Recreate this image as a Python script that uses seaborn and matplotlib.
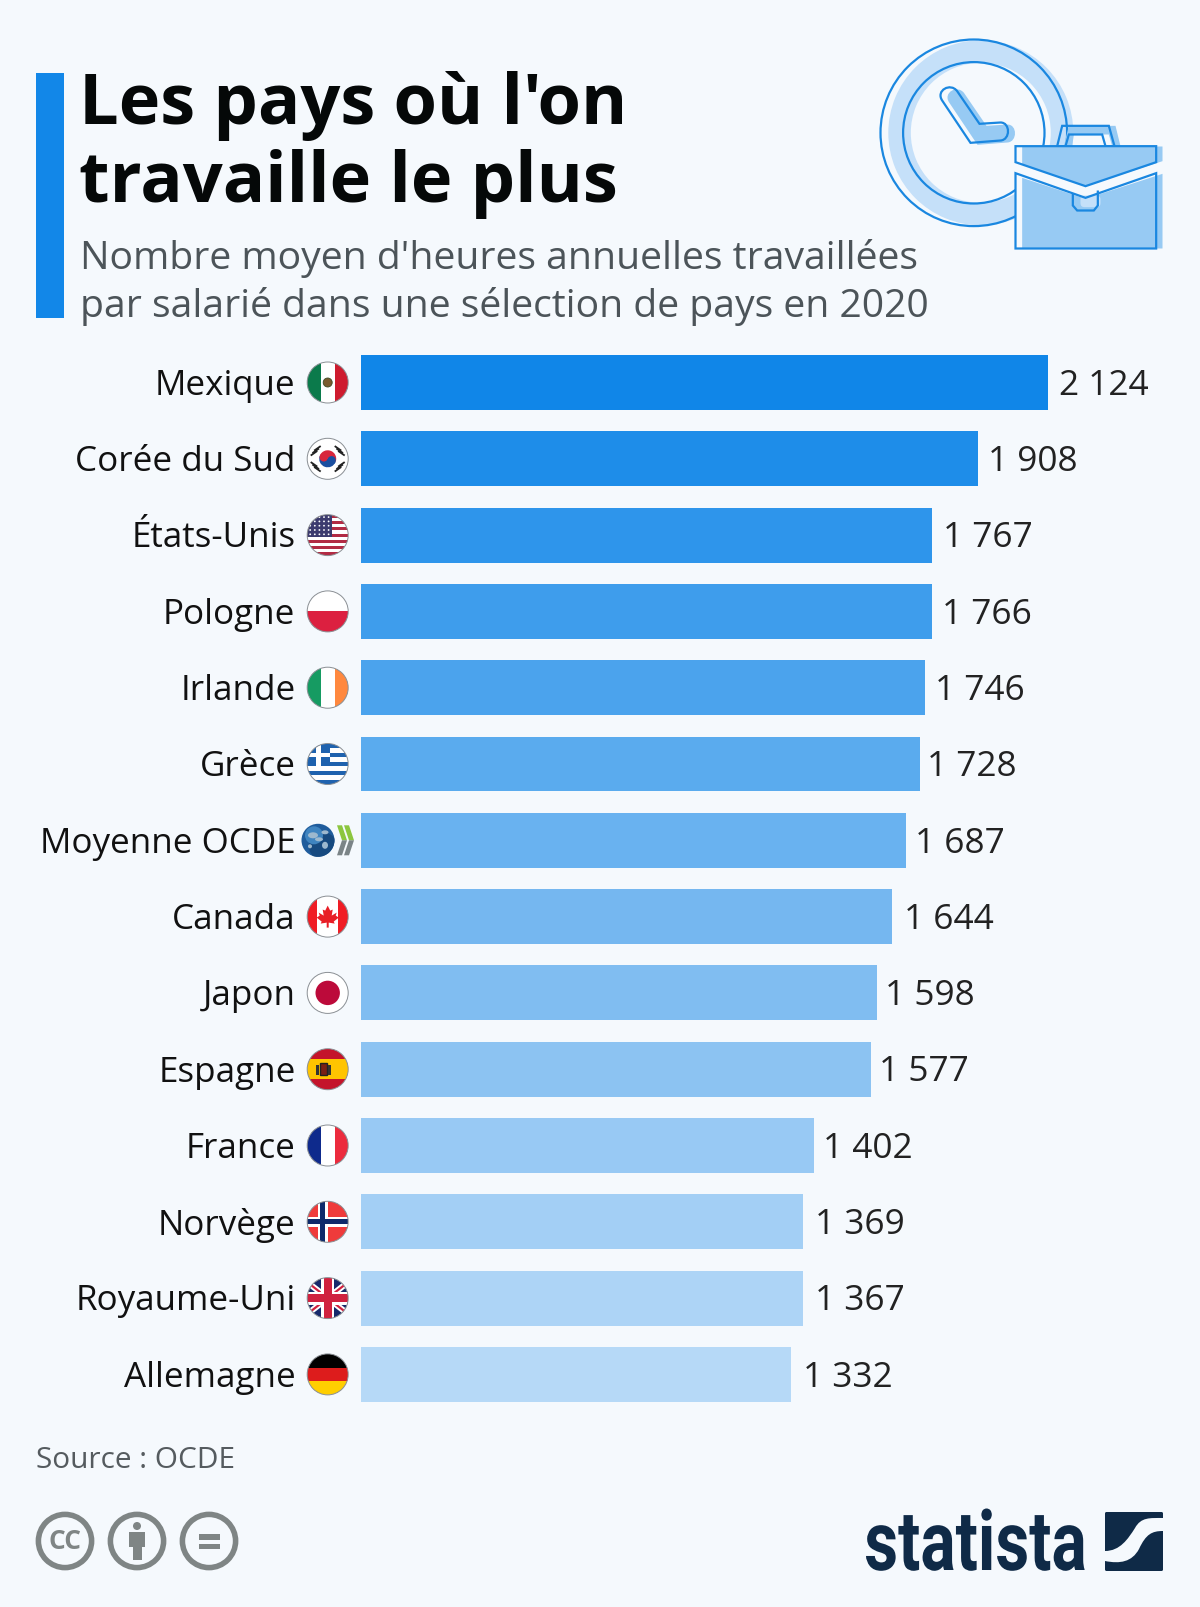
import numpy as np
import pandas as pd
import seaborn as sns
import matplotlib.pyplot as plt
import matplotlib.patheffects as pe
from matplotlib.patches import Circle, Rectangle, Polygon, Wedge, Ellipse, PathPatch, FancyBboxPatch
from matplotlib.path import Path
from matplotlib.transforms import Affine2D, ScaledTranslation

countries = ['Mexique', 'Corée du Sud', 'États-Unis', 'Pologne', 'Irlande', 'Grèce', 'Moyenne OCDE',
             'Canada', 'Japon', 'Espagne', 'France', 'Norvège', 'Royaume-Uni', 'Allemagne']
hours = [2124, 1908, 1767, 1766, 1746, 1728, 1687, 1644, 1598, 1577, 1402, 1369, 1367, 1332]
bar_colors = ['#1086E8', '#1E8DE9', '#2E95EB', '#3E9DEC', '#4BA3ED', '#5AABEE', '#69B2F0',
              '#75B7F0', '#80BDF1', '#8CC3F2', '#98C9F4', '#A3CFF5', '#ADD4F6', '#B6D9F7']

title_lines = ["Les pays où l'on", "travaille le plus"]
subtitle_lines = ["Nombre moyen d'heures annuelles travaillées",
                  "par salarié dans une sélection de pays en 2020"]
source_text = "Source : OCDE"

# the value labels do not sit at one fixed distance from the bars
label_nudge = [1, 0, 1, 0, 0, -3, -1, 2, -2, -2, -1, 2, 2, 2]

BG = '#F5F9FD'
BLUE = '#1287E8'
LIGHT = '#C5E0F9'
MID = '#97CAF3'
LINE = '#1A87E0'
GREY = '#7F8585'
NAVY = '#0F2A47'

sns.set_theme(style='white')
plt.rcParams['font.family'] = ['Open Sans', 'DejaVu Sans']

W, H = 1200, 1608
fig = plt.figure(figsize=(W / 100, H / 100), dpi=100, facecolor=BG)

# bar axes, placed so one hour is 0.3235 px wide
BAR_LEFT = 360.5
ROW0 = 383.5
STEP = 76.3
ax = fig.add_axes([BAR_LEFT / W, 1 - (ROW0 + 13.5 * STEP) / H, 1 - BAR_LEFT / W, 14 * STEP / H])
ax.set_facecolor('none')

df = pd.DataFrame({'pays': countries, 'heures': hours})
sns.barplot(data=df, y='pays', x='heures', hue='pays', palette=bar_colors, legend=False,
            width=0.72, saturation=1, linewidth=0, ax=ax)
ax.set_xlim(0, (W - BAR_LEFT) / 0.3235)
ax.set_ylim(13.5, -0.5)
ax.set_xlabel('')
ax.set_ylabel('')
ax.set_xticks([])
ax.tick_params(axis='y', length=0, pad=46.8, labelsize=25.2, labelcolor='#111111')
sns.despine(ax=ax, left=True, bottom=True)

up = ScaledTranslation(0, 1.2 / 72, fig.dpi_scale_trans)
for lab in ax.get_yticklabels():
    lab.set_transform(lab.get_transform() + up)

for cont, v, nudge in zip(ax.containers, hours, label_nudge):
    anns = ax.bar_label(cont, labels=[f'{v:,}'.replace(',', ' ')], padding=7.2 + nudge * 0.72,
                        fontsize=25.4, color='#222222')
    for a in anns:
        a.xyann = (a.xyann[0], -1.6)

# overlay in pixel coordinates for title, flags and logos
ov = fig.add_axes([0, 0, 1, 1], zorder=5)
ov.set_xlim(0, W)
ov.set_ylim(H, 0)
ov.axis('off')
ov.patch.set_alpha(0)

ov.add_patch(Rectangle((36, 74), 28, 245, fc=BLUE, ec='none'))
for txt, y in zip(title_lines, [124, 202]):
    ov.text(79, y, txt, fontsize=50.7, fontweight='bold', color='#050808', va='baseline')
for txt, y in zip(subtitle_lines, [269, 317]):
    ov.text(80, y, txt, fontsize=28.15, color='#4C5459', va='baseline')
ov.text(36, 1468.5, source_text, fontsize=21.4, color='#555B5F', va='baseline')


# flags ------------------------------------------------------------
def flag_base(cy, cx=327.7, r=20.5):
    c = Circle((cx, cy), r, fc='white', ec='none', zorder=6)
    ov.add_patch(c)
    return c, cx, r


def add(clip, art):
    art.set_zorder(7)
    ov.add_patch(art)
    art.set_clip_path(clip)
    return art


def ring(cx, cy, r):
    ov.add_patch(Circle((cx, cy), r, fc='none', ec='#8A8F94', lw=0.7, zorder=8))


def vbands(clip, cx, cy, r, cols):
    w = 2 * r / len(cols)
    for i, col in enumerate(cols):
        add(clip, Rectangle((cx - r + i * w, cy - r), w, 2 * r, fc=col, ec='none'))


def hbands(clip, cx, cy, r, cols, heights=None):
    heights = heights or [1] * len(cols)
    total = sum(heights)
    y = cy - r
    for col, h in zip(cols, heights):
        hh = 2 * r * h / total
        add(clip, Rectangle((cx - r, y), 2 * r, hh, fc=col, ec='none'))
        y += hh


def mexico(cy):
    clip, cx, r = flag_base(cy)
    vbands(clip, cx, cy, r, ['#0B7A4B', '#FFFFFF', '#CE1B2E'])
    add(clip, Ellipse((cx, cy), 9, 9, fc='#7A5A2E', ec='#3D4A26', lw=0.6))
    ring(cx, cy, r)


def korea(cy):
    clip, cx, r = flag_base(cy)
    add(clip, Wedge((cx, cy), 8.5, 20, 200, fc='#1B4FA0', ec='none'))
    add(clip, Wedge((cx, cy), 8.5, 200, 380, fc='#D8263C', ec='none'))
    add(clip, Circle((cx - 3.9, cy - 1.5), 4.2, fc='#D8263C', ec='none'))
    add(clip, Circle((cx + 3.9, cy + 1.5), 4.2, fc='#1B4FA0', ec='none'))
    for dx, dy, ang in [(-12, -8, -35), (12, -8, 35), (-12, 8, 35), (12, 8, -35)]:
        for k in (-3, 0, 3):
            x0 = cx + dx + k * np.sin(np.radians(ang))
            y0 = cy + dy + k * np.cos(np.radians(ang))
            add(clip, Rectangle((x0 - 4, y0 - 0.9), 8, 1.8, angle=ang, rotation_point='center',
                                fc='#222222', ec='none'))
    ring(cx, cy, r)


def usa(cy):
    clip, cx, r = flag_base(cy)
    hbands(clip, cx, cy, r, ['#B22B44' if i % 2 == 0 else '#FFFFFF' for i in range(13)])
    add(clip, Rectangle((cx - r, cy - r), r * 1.2, r * 1.08, fc='#3C3B6E', ec='none'))
    for i in range(5):
        for j in range(5):
            add(clip, Circle((cx - r + 3 + j * 4.6, cy - r + 2.5 + i * 4.3), 0.9, fc='white', ec='none'))
    ring(cx, cy, r)


def poland(cy):
    clip, cx, r = flag_base(cy)
    hbands(clip, cx, cy, r, ['#FFFFFF', '#DC2040'])
    ring(cx, cy, r)


def ireland(cy):
    clip, cx, r = flag_base(cy)
    vbands(clip, cx, cy, r, ['#169B62', '#FFFFFF', '#FF883E'])
    ring(cx, cy, r)


def greece(cy):
    clip, cx, r = flag_base(cy)
    hbands(clip, cx, cy, r, ['#1F62AE' if i % 2 == 0 else '#FFFFFF' for i in range(9)])
    add(clip, Rectangle((cx - r, cy - r), r * 1.1, r * 1.1, fc='#1F62AE', ec='none'))
    add(clip, Rectangle((cx - r, cy - r + 0.44 * r), r * 1.1, 0.22 * r, fc='white', ec='none'))
    add(clip, Rectangle((cx - r + 0.44 * r, cy - r), 0.22 * r, r * 1.1, fc='white', ec='none'))
    ring(cx, cy, r)


def oecd(cy):
    cx, r = 318, 16.5
    clip = Circle((cx, cy), r, fc='#1F5C9C', ec='none', zorder=6)
    ov.add_patch(clip)
    add(clip, Circle((cx + 5, cy + 6), 14, fc='#174A80', ec='none'))
    add(clip, Circle((cx - 4, cy - 5), 9, fc='#3F84C0', ec='none'))
    for dx, dy, w, h in [(-5, -5, 10, 6), (1, -1, 8, 4), (7, -8, 7, 4), (7, 5, 6, 7), (-8, 6, 4, 4)]:
        add(clip, Ellipse((cx + dx, cy + dy), w, h, fc='#9DB8CE', ec='none'))
    for x0 in (337, 344):
        ov.add_patch(Polygon([(x0, cy - 15), (x0 + 5, cy - 15), (x0 + 10, cy), (x0 + 5, cy)],
                             fc='#8CC63F', ec='none', zorder=7))
        ov.add_patch(Polygon([(x0 + 5, cy), (x0 + 10, cy), (x0 + 5, cy + 15), (x0, cy + 15)],
                             fc='#7B8487', ec='none', zorder=7))


def canada(cy):
    clip, cx, r = flag_base(cy)
    vbands(clip, cx, cy, r, ['#F01C24', '#FFFFFF', '#FFFFFF', '#F01C24'])
    leaf = [(0, -11), (2.5, -6), (5, -7), (4, -1), (9, -4), (8, -1), (11, 1), (6, 5), (7, 7), (1, 6),
            (1, 11), (-1, 11), (-1, 6), (-7, 7), (-6, 5), (-11, 1), (-8, -1), (-9, -4), (-4, -1),
            (-5, -7), (-2.5, -6)]
    add(clip, Polygon([(cx + x, cy + y) for x, y in leaf], fc='#E81E26', ec='none'))
    ring(cx, cy, r)


def japan(cy):
    clip, cx, r = flag_base(cy)
    add(clip, Circle((cx, cy), 12.2, fc='#BC0A3A', ec='none'))
    ring(cx, cy, r)


def spain(cy):
    clip, cx, r = flag_base(cy)
    hbands(clip, cx, cy, r, ['#C4142B', '#FFC400', '#C4142B'], [1, 2, 1])
    add(clip, Rectangle((cx - 8, cy - 6.5), 7, 12, fc='#7A1F14', ec='#222222', lw=1))
    add(clip, Rectangle((cx - 12, cy - 4), 3, 10, fc='#333333', ec='none'))
    add(clip, Rectangle((cx, cy - 4), 3, 10, fc='#333333', ec='none'))
    ring(cx, cy, r)


def france(cy):
    clip, cx, r = flag_base(cy)
    vbands(clip, cx, cy, r, ['#0E2A8C', '#FFFFFF', '#EC2B3D'])
    ring(cx, cy, r)


def norway(cy):
    clip, cx, r = flag_base(cy)
    add(clip, Rectangle((cx - r, cy - r), 2 * r, 2 * r, fc='#EF3B3B', ec='none'))
    add(clip, Rectangle((cx - 10, cy - r), 10, 2 * r, fc='white', ec='none'))
    add(clip, Rectangle((cx - r, cy - 5), 2 * r, 10, fc='white', ec='none'))
    add(clip, Rectangle((cx - 7.5, cy - r), 5, 2 * r, fc='#0E2A6B', ec='none'))
    add(clip, Rectangle((cx - r, cy - 2.5), 2 * r, 5, fc='#0E2A6B', ec='none'))
    ring(cx, cy, r)


def uk(cy):
    clip, cx, r = flag_base(cy)
    add(clip, Rectangle((cx - r, cy - r), 2 * r, 2 * r, fc='#16296B', ec='none'))
    for ang, col, t in [(38, 'white', 6), (-38, 'white', 6), (38, '#D0213F', 2.2), (-38, '#D0213F', 2.2)]:
        add(clip, Rectangle((cx - 30, cy - t / 2), 60, t, angle=ang, rotation_point='center', fc=col, ec='none'))
    add(clip, Rectangle((cx - 6.5, cy - r), 13, 2 * r, fc='white', ec='none'))
    add(clip, Rectangle((cx - r, cy - 6.5), 2 * r, 13, fc='white', ec='none'))
    add(clip, Rectangle((cx - 3.8, cy - r), 7.6, 2 * r, fc='#D0213F', ec='none'))
    add(clip, Rectangle((cx - r, cy - 3.8), 2 * r, 7.6, fc='#D0213F', ec='none'))
    ring(cx, cy, r)


def germany(cy):
    clip, cx, r = flag_base(cy)
    hbands(clip, cx, cy, r, ['#000000', '#DD1C1C', '#FFCE00'])
    ring(cx, cy, r)


flags = [mexico, korea, usa, poland, ireland, greece, oecd, canada, japan, spain, france, norway, uk, germany]
for i, draw_flag in enumerate(flags):
    draw_flag(ROW0 + i * STEP)


# clock and briefcase (zoom coords)
def Z(pts):
    return [(860.5 + x / 3, 21.5 + y / 3) for x, y in pts]


ck = (973.8, 133.8)
ov.add_patch(Wedge((ck[0] + 7, ck[1]), 92.5, 0, 360, width=22.5, fc=LIGHT, ec='none', zorder=2))
ov.add_patch(Circle(ck, 93.3, fc='none', ec=LINE, lw=1.6, zorder=3))
ov.add_patch(Circle(ck, 70.7, fc='none', ec=LINE, lw=1.6, zorder=3))

hand_verts = Z([(245, 240), (330, 367), (420, 360), (450, 358), (450, 306), (420, 306), (357, 310),
                (290, 212), (270, 185), (225, 210), (245, 240), (245, 240)])
hand_codes = [Path.MOVETO, Path.LINETO, Path.LINETO, Path.CURVE4, Path.CURVE4, Path.CURVE4, Path.LINETO,
              Path.LINETO, Path.CURVE4, Path.CURVE4, Path.CURVE4, Path.CLOSEPOLY]
ov.add_patch(PathPatch(Path([(x + 7, y + 2) for x, y in hand_verts], hand_codes), fc=MID, ec='none', zorder=3))
ov.add_patch(PathPatch(Path(hand_verts, hand_codes), fc='none', ec=LINE, lw=1.6, zorder=4))

# briefcase
ov.add_patch(Polygon(Z([(465, 377), (908, 377), (908, 686), (465, 686)]), fc=BG, ec='none', zorder=4))
ov.add_patch(Polygon(Z([(610, 377), (625, 316), (765, 316), (780, 377), (755, 377), (745, 342),
                        (640, 342), (635, 377)]), fc=MID, ec='none', zorder=3.5))
ov.add_patch(Polygon(Z([(590, 377), (605, 316), (745, 316), (762, 377), (735, 377), (725, 342),
                        (625, 342), (615, 377)]), fc='none', ec=LINE, lw=1.6, zorder=4))
ov.add_patch(Polygon(Z([(485, 378), (906, 378), (906, 422), (675, 497), (485, 432)]), fc=MID, ec='none', zorder=4.5))
ov.add_patch(Polygon(Z([(485, 472), (675, 535), (906, 460), (906, 684), (485, 684)]), fc=MID, ec='none', zorder=4.5))
ov.add_patch(FancyBboxPatch((860.5 + 660 / 3, 21.5 + 525 / 3), 60 / 3, 35 / 3, boxstyle='round,pad=0,rounding_size=4',
                            fc=LIGHT, ec='none', zorder=4.6))
ov.add_patch(Polygon(Z([(637, 520), (637, 555), (650, 570), (700, 570), (712, 555), (712, 510)]), closed=False,
                     fc='none', ec=LINE, lw=1.6, zorder=5))
ov.add_patch(Polygon(Z([(465, 377), (887, 377), (887, 425), (675, 497), (465, 425)]), fc='none', ec=LINE, lw=1.6, zorder=5))
ov.add_patch(Polygon(Z([(465, 458), (675, 532), (887, 458), (887, 684), (465, 684)]), fc='none', ec=LINE, lw=1.6, zorder=5))


# creative commons icons
cc_y = 1542
for cx in (65, 137, 209):
    ov.add_patch(Circle((cx, cc_y), 26.6, fc='none', ec=GREY, lw=4))
ov.text(65, cc_y - 0.5, 'CC', fontsize=19, fontweight='bold', color=GREY, ha='center', va='center')
ov.add_patch(Circle((137, 1527), 4, fc=GREY, ec='none'))
ov.add_patch(Rectangle((129, 1533), 16, 15, fc=GREY, ec='none'))
ov.add_patch(Rectangle((132.5, 1546), 9, 15, fc=GREY, ec='none'))
ov.add_patch(Rectangle((199, 1535), 21, 5.5, fc=GREY, ec='none'))
ov.add_patch(Rectangle((199, 1544.5), 21, 5.5, fc=GREY, ec='none'))


# statista logo: no condensed bold font here, so squeeze a Roboto Bold text when it is drawn
class Squeeze(pe.AbstractPathEffect):
    def __init__(self, sx, x0):
        super().__init__()
        self.sx = sx
        self.x0 = x0

    def draw_path(self, renderer, gc, tpath, affine, rgbFace=None):
        squeeze = Affine2D().translate(-self.x0, 0).scale(self.sx, 1).translate(self.x0, 0)
        renderer.draw_path(gc, tpath, affine + squeeze, rgbFace)


ov.text(975.5, 1571, 'statista', fontsize=60, fontweight='bold', family=['Roboto', 'DejaVu Sans'],
        color=NAVY, ha='center', va='baseline', path_effects=[Squeeze(0.79, 975.5)])
ov.add_patch(FancyBboxPatch((1105, 1513), 58, 59, boxstyle='round,pad=0,rounding_size=1.5', fc=NAVY, ec='none'))
band_verts = [(1105, 1552), (1120, 1552), (1128, 1540), (1135, 1529), (1141, 1518), (1150, 1519), (1163, 1519),
              (1163, 1532), (1152, 1532), (1146, 1535), (1139, 1550), (1132, 1563), (1120, 1565), (1105, 1562),
              (1105, 1552)]
band_codes = [Path.MOVETO, Path.CURVE4, Path.CURVE4, Path.CURVE4, Path.CURVE4, Path.CURVE4, Path.CURVE4,
              Path.LINETO, Path.CURVE4, Path.CURVE4, Path.CURVE4, Path.CURVE4, Path.CURVE4, Path.CURVE4,
              Path.CLOSEPOLY]
ov.add_patch(PathPatch(Path(band_verts, band_codes), fc=BG, ec='none', zorder=3))

fig.savefig('out.png', dpi=100, facecolor=BG)
